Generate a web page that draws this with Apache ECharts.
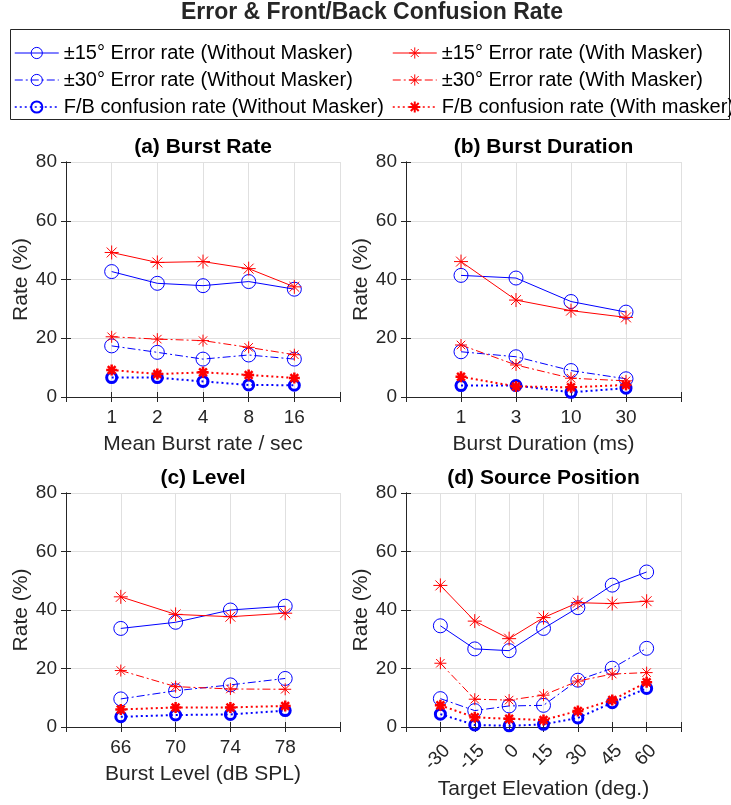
<!DOCTYPE html>
<html>
<head>
<meta charset="utf-8">
<script src="https://cdn.jsdelivr.net/npm/echarts@6/dist/echarts.min.js"></script>
<style>
html,body{margin:0;padding:0;background:#fff;}
#main{width:731px;height:805px;}
</style>
</head>
<body>
<div id="main"></div>
<script>
// ---------- DATA ----------
const seriesNames = [
  '±15° Error rate (Without Masker)',
  '±30° Error rate (Without Masker)',
  'F/B confusion rate (Without Masker)',
  '±15° Error rate (With Masker)',
  '±30° Error rate (With Masker)',
  'F/B confusion rate (With masker)'
];
const yTicks = [0, 20, 40, 60, 80];

const aCats = ['1', '2', '4', '8', '16'];
const a15Without = [42.7, 38.7, 37.9, 39.3, 36.7];
const a30Without = [17.4, 15.2, 12.9, 14.3, 12.9];
const aFBWithout = [6.6, 6.6, 5.3, 4.1, 4.0];
const a15With = [49.2, 45.8, 46.1, 43.7, 37.5];
const a30With = [20.5, 19.7, 19.2, 16.9, 14.4];
const aFBWith = [9.2, 7.8, 8.4, 7.5, 6.5];

const bCats = ['1', '3', '10', '30'];
const b15Without = [41.4, 40.5, 32.5, 28.9];
const b30Without = [15.4, 13.7, 9.0, 6.2];
const bFBWithout = [3.9, 3.9, 1.6, 3.0];
const b15With = [46.1, 33.0, 29.4, 27.1];
const b30With = [17.7, 10.9, 6.4, 5.5];
const bFBWith = [6.9, 3.6, 3.3, 4.1];

const cCats = ['66', '70', '74', '78'];
const c15Without = [33.7, 35.8, 40.0, 41.3];
const c30Without = [9.6, 12.4, 14.4, 16.6];
const cFBWithout = [3.5, 4.1, 4.3, 5.6];
const c15With = [44.5, 38.5, 37.7, 38.9];
const c30With = [19.3, 13.8, 13.0, 12.9];
const cFBWith = [6.0, 6.7, 6.7, 7.2];

const dCats = ['-30', '-15', '0', '15', '30', '45', '60'];
const d15Without = [34.6, 26.7, 26.1, 33.7, 40.8, 48.5, 53.0];
const d30Without = [9.7, 5.6, 7.2, 7.4, 16.0, 20.1, 26.9];
const dFBWithout = [4.4, 0.7, 0.4, 0.9, 3.1, 8.3, 13.2];
const d15With = [48.4, 36.2, 30.2, 37.4, 42.5, 42.2, 43.0];
const d30With = [21.8, 9.5, 9.2, 10.9, 15.7, 18.1, 18.6];
const dFBWith = [7.4, 3.3, 2.8, 2.4, 5.5, 9.2, 15.3];

const panelTitles = ['(a) Burst Rate', '(b) Burst Duration', '(c) Level', '(d) Source Position'];
const xNames = ['Mean Burst rate / sec', 'Burst Duration (ms)', 'Burst Level (dB SPL)', 'Target Elevation (deg.)'];
const yName = 'Rate (%)';
const mainTitle = 'Error & Front/Back Confusion Rate';

// ---------- BUILD ----------
const FONT = '"Liberation Sans", Arial, Helvetica, sans-serif';
const TXT = '#262626';
const BLUE = '#0000ff';
const RED = '#ff0000';
const ASTER = 'path://M0,-10L0,10M-10,0L10,0M-7.07,-7.07L7.07,7.07M-7.07,7.07L7.07,-7.07';
const DASHDOT = [8, 3, 2, 3];
const DOT = [2, 3];

const panels = [
  {cats: aCats, s: [a15Without, a30Without, aFBWithout, a15With, a30With, aFBWith]},
  {cats: bCats, s: [b15Without, b30Without, bFBWithout, b15With, b30With, bFBWith]},
  {cats: cCats, s: [c15Without, c30Without, cFBWithout, c15With, c30With, cFBWith]},
  {cats: dCats, s: [d15Without, d30Without, dFBWithout, d15With, d30With, dFBWith]}
];
const gridBoxes = [
  {left: 66, top: 162, width: 274, height: 235},
  {left: 406, top: 162, width: 275, height: 235},
  {left: 66, top: 493, width: 274, height: 234},
  {left: 406, top: 493, width: 275, height: 234}
];
const styles = [
  {color: BLUE, symbol: 'circle', size: 14, bw: 1, lw: 1, type: 'solid'},
  {color: BLUE, symbol: 'circle', size: 14, bw: 1, lw: 1, type: DASHDOT},
  {color: BLUE, symbol: 'circle', size: 10, bw: 3, lw: 2, type: DOT},
  {color: RED, symbol: ASTER, size: 14, bw: 1, lw: 1, type: 'solid'},
  {color: RED, symbol: ASTER, size: 12, bw: 1, lw: 1, type: DASHDOT},
  {color: RED, symbol: ASTER, size: 11, bw: 2.5, lw: 2, type: DOT}
];
const nameGaps = [37, 37, 37, 52];

const grid = [], xAxis = [], yAxis = [], series = [];
panels.forEach((p, i) => {
  grid.push(Object.assign({containLabel: false}, gridBoxes[i]));
  const n = p.cats.length;
  const axisLine = {show: true, lineStyle: {color: TXT, width: 1}};
  const rotated = i === 3;
  xAxis.push({
    type: 'value', gridIndex: i, position: 'bottom', min: 0, max: n + 1, interval: 1,
    axisLine, axisTick: {show: true, inside: true, length: 5, lineStyle: {color: TXT}},
    splitLine: {show: true, lineStyle: {color: '#e0e0e0', width: 1}},
    axisLabel: Object.assign({
      show: true, color: TXT, fontFamily: FONT, fontSize: 19, margin: rotated ? 14 : 11,
      rotate: rotated ? 45 : 0,
      formatter: v => (v >= 1 && v <= n) ? p.cats[v - 1] : ''
    }, rotated ? {verticalAlign: 'top'} : {}),
    name: xNames[i], nameLocation: 'middle', nameGap: nameGaps[i],
    nameTextStyle: {color: TXT, fontFamily: FONT, fontSize: 21}
  });
  xAxis.push({
    type: 'value', gridIndex: i, position: 'top', min: 0, max: n + 1, interval: 1,
    axisLine, axisTick: {show: true, inside: true, length: 5, lineStyle: {color: TXT}},
    splitLine: {show: false}, axisLabel: {show: false}
  });
  yAxis.push({
    type: 'value', gridIndex: i, position: 'left', min: yTicks[0], max: yTicks[yTicks.length - 1],
    interval: yTicks[1] - yTicks[0],
    axisLine, axisTick: {show: true, inside: true, length: 5, lineStyle: {color: TXT}},
    splitLine: {show: true, lineStyle: {color: '#e0e0e0', width: 1}},
    axisLabel: {show: true, color: TXT, fontFamily: FONT, fontSize: 19, margin: 9},
    name: yName, nameLocation: 'middle', nameGap: 34,
    nameTextStyle: {color: TXT, fontFamily: FONT, fontSize: 21}
  });
  yAxis.push({
    type: 'value', gridIndex: i, position: 'right', min: yTicks[0], max: yTicks[yTicks.length - 1],
    interval: yTicks[1] - yTicks[0],
    axisLine, axisTick: {show: true, inside: true, length: 5, lineStyle: {color: TXT}},
    splitLine: {show: false}, axisLabel: {show: false}
  });
  p.s.forEach((vals, k) => {
    const st = styles[k];
    series.push({
      type: 'line', name: seriesNames[k], xAxisIndex: 2 * i, yAxisIndex: 2 * i,
      data: vals.map((v, j) => [j + 1, v]),
      symbol: st.symbol, symbolSize: st.size, showSymbol: true,
      itemStyle: {color: st.symbol === 'circle' ? 'transparent' : st.color, borderColor: st.color, borderWidth: st.bw},
      lineStyle: {color: st.color, width: st.lw, type: st.type},
      emphasis: {disabled: true}, z: k < 3 ? 2 : 3
    });
  });
});

function legendItems(idx) {
  return idx.map(k => ({
    name: seriesNames[k],
    itemStyle: {borderWidth: styles[k].bw === 1 ? 1 : 2},
    lineStyle: {width: styles[k].lw === 1 ? 1 : 1.5}
  }));
}
const legendCommon = {
  orient: 'vertical', top: 43, itemWidth: 44, itemHeight: 14, itemGap: 7, padding: 0,
  selectedMode: false, textStyle: {color: '#000', fontFamily: FONT, fontSize: 20}
};

const graphic = [
  {type: 'text', x: 372, y: 13, style: {text: mainTitle, font: 'bold 23px ' + FONT, fill: TXT, align: 'center', verticalAlign: 'middle'}},
  {type: 'rect', shape: {x: 10.5, y: 29.5, width: 719, height: 90}, style: {fill: 'none', stroke: TXT, lineWidth: 1}},
];
gridBoxes.forEach((g, i) => {
  graphic.push({type: 'text', x: g.left + g.width / 2, y: g.top - 15,
    style: {text: panelTitles[i], font: 'bold 21px ' + FONT, fill: '#000', align: 'center', verticalAlign: 'middle'}});
});

const chart = echarts.init(document.getElementById('main'), null, {renderer: 'canvas'});
chart.setOption({
  animation: false,
  backgroundColor: '#fff',
  grid, xAxis, yAxis, series, graphic,
  legend: [
    Object.assign({left: 14, data: legendItems([0, 1, 2])}, legendCommon),
    Object.assign({left: 392, data: legendItems([3, 4, 5])}, legendCommon)
  ]
});
</script>
</body>
</html>
